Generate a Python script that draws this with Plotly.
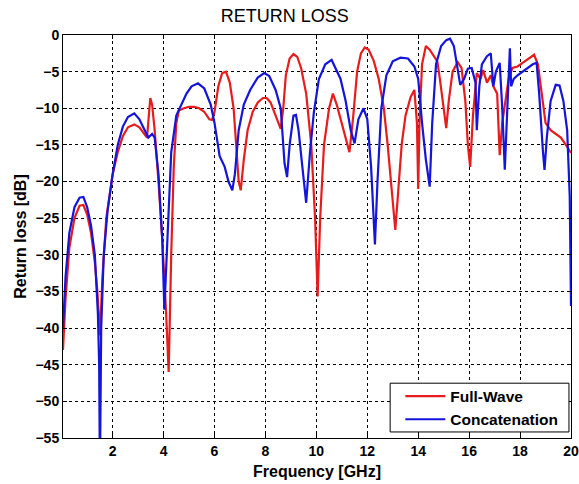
import plotly.graph_objects as go

fw_freq = [0.05,0.15,0.3,0.5,0.7,0.85,1.0,1.15,1.3,1.4,1.5,1.6,1.75,1.9,2.0,2.2,2.4,2.6,2.85,3.05,3.25,3.35,3.42,3.48,3.55,3.65,3.8,3.95,4.1,4.2,4.3,4.4,4.5,4.6,4.8,5.0,5.2,5.4,5.6,5.8,5.9,6.0,6.15,6.3,6.45,6.6,6.75,6.85,6.95,7.03,7.15,7.3,7.5,7.7,7.9,8.05,8.2,8.4,8.6,8.7,8.8,8.95,9.1,9.25,9.4,9.6,9.8,9.95,10.05,10.15,10.3,10.5,10.65,10.8,11.0,11.2,11.3,11.45,11.6,11.75,11.9,12.05,12.25,12.45,12.65,12.8,12.95,13.1,13.2,13.35,13.5,13.7,13.85,13.95,14.0,14.05,14.15,14.3,14.45,14.6,14.75,14.85,15.0,15.1,15.2,15.35,15.55,15.7,15.85,15.95,16.04,16.15,16.3,16.45,16.55,16.7,16.85,16.95,17.1,17.2,17.3,17.4,17.55,17.7,17.9,18.1,18.3,18.55,18.7,18.85,19.0,19.2,19.4,19.6,19.8,20.0]
fw_rl = [-43,-36,-29,-25,-23.3,-23.2,-24.5,-27,-31,-35,-41,-33,-25,-21,-19,-16,-13.8,-12.6,-12.2,-12.6,-13.6,-14.0,-11,-8.6,-9.5,-13,-20,-28,-38,-46,-30,-18,-12,-10.3,-10.0,-9.8,-9.8,-10.0,-10.5,-11.5,-11.6,-10.5,-7,-5.2,-5.0,-6.5,-10,-15,-20,-21.2,-17,-13,-10.5,-9.2,-8.6,-8.6,-9.2,-11,-12.8,-10,-5.5,-3.2,-2.6,-3,-4.5,-8,-15,-25,-35.7,-25,-15,-10,-8,-9.5,-12,-14.5,-16,-11,-5,-2.5,-1.7,-2,-3.5,-6,-10,-15,-21,-26.6,-22,-15,-11,-8.5,-7.5,-12,-21,-12,-4,-1.5,-2.0,-2.8,-3.6,-6,-10,-12.7,-9,-5,-3.7,-4.5,-9,-15,-18,-11,-5.2,-6,-4.8,-6.5,-5.5,-7,-8,-16.4,-12,-9.6,-6,-4.5,-4.3,-3.8,-3.3,-2.7,-4,-8,-12,-13,-13.5,-14,-15,-16.1]

cc_freq = [0.05,0.15,0.3,0.5,0.7,0.85,1.0,1.15,1.3,1.42,1.47,1.5,1.55,1.65,1.8,2.0,2.2,2.4,2.6,2.85,3.05,3.25,3.4,3.55,3.65,3.8,3.95,4.03,4.15,4.3,4.5,4.7,4.9,5.1,5.35,5.6,5.85,6.0,6.2,6.4,6.55,6.7,6.8,6.95,7.15,7.4,7.7,7.95,8.15,8.4,8.6,8.75,8.85,8.95,9.1,9.2,9.3,9.45,9.6,9.75,9.9,10.1,10.35,10.6,10.8,10.95,11.15,11.35,11.5,11.65,11.85,12.0,12.15,12.3,12.4,12.55,12.75,13.0,13.3,13.6,13.85,14.0,14.15,14.3,14.45,14.55,14.7,14.9,15.1,15.25,15.4,15.55,15.65,15.8,15.95,16.1,16.25,16.3,16.4,16.5,16.7,16.85,16.95,17.05,17.2,17.3,17.4,17.5,17.6,17.65,17.75,17.9,18.2,18.5,18.65,18.75,18.9,18.96,19.05,19.2,19.4,19.55,19.7,19.85,19.95,20.0]
cc_rl = [-40,-33,-27,-23.5,-22.2,-22.1,-23.5,-26,-30,-38,-45,-60,-40,-30,-24,-19,-15,-12.5,-11.2,-10.7,-11.5,-13,-14,-13.5,-14,-19,-28,-37.5,-28,-16,-11,-9.5,-8,-7,-6.6,-7.3,-9.5,-12,-16.5,-18,-20,-21.2,-19,-13,-9.5,-7.5,-5.8,-5.2,-5.6,-7.5,-10,-17.5,-19.4,-15,-11,-10.9,-13,-18,-22.9,-16,-10.6,-6,-4,-3.4,-4.8,-6,-9,-13,-14.8,-11.5,-10,-11.5,-18,-28.6,-20,-10,-5.5,-3.6,-3.1,-3.2,-4.3,-6,-12,-17,-20.7,-12,-4,-1.5,-0.7,-0.5,-1.5,-5,-6.8,-6,-4.6,-4.5,-6.5,-13,-7,-4,-2.9,-2.5,-7,-5,-3.8,-10,-18.4,-10,-1.8,-7,-6,-5.5,-4.8,-4.0,-3.8,-8,-16,-18.4,-14,-9,-6.8,-6.9,-9,-13,-22,-37]

x_ticks = [2,4,6,8,10,12,14,16,18,20]
y_ticks = [0,-5,-10,-15,-20,-25,-30,-35,-40,-45,-50,-55]

fig = go.Figure()
fig.add_trace(go.Scatter(x=fw_freq, y=fw_rl, mode="lines", name="Full-Wave",
                         line=dict(color="#e81c1c", width=2.2)))
fig.add_trace(go.Scatter(x=cc_freq, y=cc_rl, mode="lines", name="Concatenation",
                         line=dict(color="#1414dc", width=2.2)))

axis_common = dict(showline=True, linecolor="black", linewidth=1, mirror="ticks",
                   ticks="inside", ticklen=4, tickcolor="black",
                   showgrid=True, gridcolor="black", gridwidth=1, griddash="3px,3px",
                   zeroline=False, ticklabeloverflow="allow", automargin=False,
                   tickfont=dict(family="Arial", size=14, color="black", weight="bold"))

fig.update_xaxes(range=[0.05, 20], tickvals=x_ticks,
                 title=dict(text="Frequency [GHz]", standoff=8,
                            font=dict(family="Arial", size=16, color="black", weight="bold")),
                 **axis_common)
fig.update_yaxes(range=[-55, 0], tickvals=y_ticks,
                 title=dict(text="Return loss [dB]", standoff=4,
                            font=dict(family="Arial", size=16, color="black", weight="bold")),
                 **axis_common)

# legend frame (MATLAB-style box)
fig.add_shape(type="rect", xref="paper", yref="paper",
              x0=0.644, x1=0.996, y0=0.015, y1=0.136,
              line=dict(color="black", width=1), fillcolor="white", layer="above")

fig.update_layout(
    width=579, height=484,
    margin=dict(l=63, r=8, t=35, b=46),
    paper_bgcolor="white", plot_bgcolor="white",
    title=dict(text="RETURN LOSS", x=0.492, xref="container", xanchor="center",
               y=0.968, yanchor="middle",
               font=dict(family="Arial", size=18, color="black")),
    legend=dict(x=0.664, y=0.0744, xanchor="left", yanchor="middle",
                bgcolor="rgba(0,0,0,0)", borderwidth=0,
                font=dict(family="Arial", size=15.5, color="black", weight="bold"),
                tracegroupgap=0, itemwidth=40),
    showlegend=True,
)

fig.write_html("out.html")
